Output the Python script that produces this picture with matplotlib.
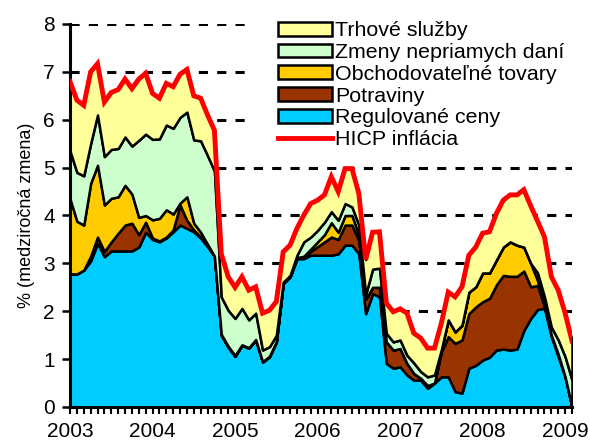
import numpy as np
import matplotlib
matplotlib.use('Agg')
import matplotlib.pyplot as plt
from matplotlib.patches import Patch, Rectangle
from matplotlib.lines import Line2D

plt.rcParams['font.family'] = ['Liberation Sans', 'DejaVu Sans']

# monthly contributions (pp), Jan 2003 - Feb 2009
regulated = [2.78, 2.78, 2.86, 3.05, 3.42, 3.14, 3.26, 3.26, 3.26, 3.26, 3.34, 3.65,
             3.50, 3.45, 3.53, 3.66, 3.80, 3.73, 3.66, 3.53, 3.35, 3.15, 1.50, 1.25,
             1.06, 1.29, 1.23, 1.40, 0.94, 1.05, 1.36, 2.58, 2.72, 3.10, 3.10, 3.17,
             3.17, 3.17, 3.17, 3.20, 3.38, 3.38, 3.20, 1.95, 2.37, 2.30, 0.91, 0.81,
             0.84, 0.67, 0.56, 0.56, 0.39, 0.50, 0.63, 0.63, 0.32, 0.29, 0.81, 0.87,
             0.98, 1.04, 1.19, 1.21, 1.19, 1.21, 1.60, 1.85, 2.04, 2.06, 1.47, 1.05,
             0.63, 0.00]
food = [0.00, 0.00, 0.00, 0.10, 0.13, 0.11, 0.19, 0.37, 0.54, 0.58, 0.26, 0.21,
        0.03, 0.02, 0.02, 0.04, 0.42, 0.17, 0.04, 0.02, 0.02, 0.00, 0.00, 0.00,
        0.00, 0.00, 0.00, 0.00, 0.00, 0.00, 0.00, 0.00, 0.00, 0.00, 0.02, 0.08,
        0.18, 0.28, 0.38, 0.30, 0.42, 0.42, 0.28, 0.30, 0.13, 0.20, 0.45, 0.38,
        0.38, 0.24, 0.14, 0.04, 0.06, 0.00, 0.52, 0.84, 1.01, 1.11, 1.14, 1.22,
        1.22, 1.23, 1.36, 1.54, 1.54, 1.52, 1.24, 0.66, 0.50, 0.04, 0.03, 0.05,
        0.00, 0.00]
tradables = [1.57, 1.10, 0.94, 1.52, 1.50, 0.97, 0.91, 0.76, 0.83, 0.61, 0.36, 0.14,
             0.38, 0.47, 0.57, 0.33, 0.04, 0.49, 0.14, 0.10, 0.03, 0.00, 0.02, 0.02,
             0.02, 0.01, 0.01, 0.01, 0.01, 0.01, 0.01, 0.01, 0.01, 0.02, 0.03, 0.05,
             0.10, 0.15, 0.30, 0.15, 0.20, 0.20, 0.12, 0.00, 0.00, 0.00, 0.00, 0.00,
             0.00, 0.00, 0.00, 0.00, 0.00, 0.00, 0.05, 0.35, 0.24, 0.31, 0.45, 0.42,
             0.60, 0.53, 0.52, 0.59, 0.72, 0.65, 0.50, 0.49, 0.10, 0.00, 0.00, 0.00,
             0.00, 0.00]
indirect_tax = [1.00, 1.02, 1.03, 0.83, 1.05, 1.01, 1.02, 1.01, 1.01, 1.00, 1.61, 1.70,
                1.68, 1.66, 1.77, 1.79, 1.79, 1.77, 1.74, 1.91, 1.85, 1.78, 0.78, 0.75,
                0.77, 0.76, 0.58, 0.55, 0.24, 0.20, 0.13, 0.02, 0.02, 0.05, 0.30, 0.25,
                0.24, 0.26, 0.23, 0.25, 0.25, 0.18, 0.20, 0.10, 0.38, 0.40, 0.18, 0.17,
                0.18, 0.17, 0.22, 0.14, 0.18, 0.17, 0.00, 0.00, 0.00, 0.00, 0.00, 0.00,
                0.00, 0.00, 0.00, 0.00, 0.00, 0.00, 0.00, 0.00, 0.16, 0.20, 0.17, 0.30,
                0.42, 0.56]
services = [1.45, 1.51, 1.47, 1.50, 1.07, 1.14, 1.19, 1.23, 1.21, 1.20, 1.28, 1.27,
            0.96, 0.85, 0.87, 0.87, 0.90, 0.89, 0.92, 0.89, 0.85, 0.85, 0.90, 0.70,
            0.65, 0.66, 0.62, 0.55, 0.77, 0.76, 0.70, 0.63, 0.63, 0.56, 0.56, 0.70,
            0.63, 0.57, 0.73, 0.60, 0.73, 0.80, 0.66, 0.73, 0.77, 0.76, 0.63, 0.63,
            0.65, 0.88, 0.62, 0.70, 0.60, 0.56, 0.55, 0.58, 0.73, 0.80, 0.77, 0.83,
            0.83, 0.86, 0.97, 0.98, 0.98, 1.05, 1.20, 1.20, 1.08, 1.25, 1.05, 1.04,
            0.91, 0.82]

years = ['2003', '2004', '2005', '2006', '2007', '2008', '2009']
labels = ['Regulované ceny', 'Potraviny', 'Obchodovateľné tovary',
          'Zmeny nepriamych daní', 'Trhové služby']
colors = ['#00CCFF', '#993300', '#FFCC00', '#CCFFCC', '#FFFF99']

layers = np.array([regulated, food, tradables, indirect_tax, services])
hicp = layers.sum(axis=0)
x = np.arange(len(regulated))

fig = plt.figure(figsize=(5.9, 4.45), dpi=100)
ax = fig.add_axes([70/590, 38/445, 502/590, 383/445])

ax.stackplot(x, layers, colors=colors, edgecolor='black', linewidth=1.8, zorder=2)
ax.plot(x, hicp, color='#FF0000', linewidth=3.5, zorder=3, solid_joinstyle='miter')

ax.set_xlim(0, len(x) - 1)
ax.set_ylim(0, 8)
ax.set_yticks(range(0, 9))
ax.set_xticks(np.arange(0, len(x), 12))
ax.set_xticklabels(years)
ax.set_xticks(x, minor=True)
ax.tick_params(axis='both', labelsize=15, width=1.8, length=6, direction='out', color='black')
ax.tick_params(axis='y', pad=5)
ax.tick_params(axis='x', which='both', length=5, width=1.5, pad=6)
ax.tick_params(axis='x', which='minor', labelbottom=False)

for side in ['top', 'right']:
    ax.spines[side].set_visible(False)
for side in ['left', 'bottom']:
    ax.spines[side].set_linewidth(2.2)

ax.yaxis.grid(True, linestyle=(0, (3, 3)), color='black', linewidth=2.2, zorder=0)
ax.set_axisbelow(True)
ax.set_ylabel('% (medziročná zmena)', fontsize=13, labelpad=6)

# white legend background hides the gridlines behind it
ax.add_patch(Rectangle((0.352, 0.67), 0.7, 0.4, transform=ax.transAxes,
                       facecolor='white', edgecolor='none', zorder=1, clip_on=False))

handles = [Patch(facecolor=c, edgecolor='black', linewidth=1.8) for c in colors[::-1]]
handles.append(Line2D([0], [0], color='#FF0000', linewidth=3.5))
leg = fig.legend(handles, labels[::-1] + ['HICP inflácia'], loc='upper left',
                 bbox_to_anchor=(259/590, 1 - 2/445), fontsize=15.4, frameon=False,
                 handlelength=2.5, handleheight=0.6, handletextpad=0.15,
                 labelspacing=0.13, borderpad=0.4)

fig.savefig('out.png', dpi=100)
